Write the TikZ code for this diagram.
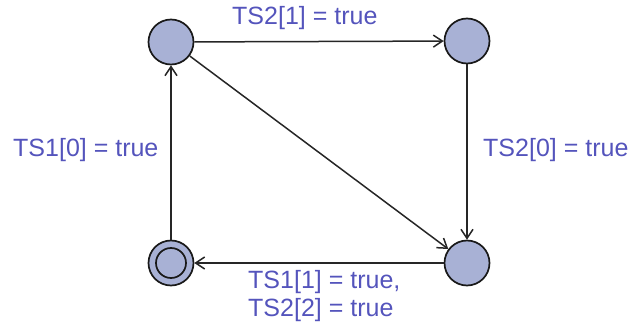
\documentclass[tikz,border=0pt]{standalone}
\usepackage{fontspec}
\setmainfont{Liberation Sans}
\usetikzlibrary{arrows.meta}
\definecolor{locfill}{RGB}{168,177,213}
\definecolor{labelblue}{RGB}{84,84,188}
\begin{document}
\begin{tikzpicture}[x=1pt,y=-1pt,
  loc/.style={circle,draw=black!90,line width=1.7pt,fill=locfill,minimum size=45pt,inner sep=0pt},
  trans/.style={draw=black!85,line width=1.5pt,-{Straight Barb[length=9pt,width=12pt,line width=1.5pt]}},
  lbl/.style={text=labelblue,font=\fontsize{25}{28}\selectfont,inner sep=0pt,anchor=base west}]
  \useasboundingbox (0,0) rectangle (635,329);
  % locations
  \node[loc] (tl) at (171,42) {};
  \node[loc] (tr) at (467,41) {};
  \node[loc] (br) at (467,263) {};
  \node[loc] (bl) at (171,263) {};
  \draw[black!90,line width=1.7pt] (bl.center) circle (15pt);
  % transitions
  \draw[trans] (tl) -- (tr);
  \draw[trans] (tr) -- (br);
  \draw[trans] (br) -- (bl);
  \draw[trans] (bl) -- (tl);
  \draw[trans] (tl) -- (br);
  % guards
  \node[lbl] (g1) at (232,25) {TS2[1] = true};
  \node[lbl] (g2) at (13,157) {TS1[0] = true};
  \node[lbl] (g3) at (483,157) {TS2[0] = true};
  \node[lbl] (g4) at (248,288) {TS1[1] = true,};
  \node[lbl] (g5) at (248,316) {TS2[2] = true};
\end{tikzpicture}
\end{document}
